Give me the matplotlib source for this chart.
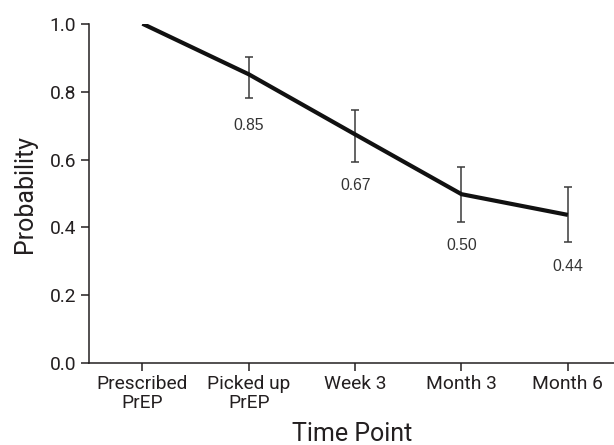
import numpy as np
import matplotlib.pyplot as plt

##========================================
# Data
##========================================
time_points = ['Prescribed\nPrEP', 'Picked up\nPrEP', 'Week 3', 'Month 3', 'Month 6']
prob = [1.0, 0.851, 0.674, 0.498, 0.437]
ci_low = [1.0, 0.780, 0.593, 0.416, 0.358]
ci_high = [1.0, 0.901, 0.746, 0.579, 0.520]
point_labels = ['', '0.85', '0.67', '0.50', '0.44']

x = np.arange(len(time_points))
prob = np.array(prob)
err = np.array([prob - np.array(ci_low), np.array(ci_high) - prob])

plt.rcParams['font.family'] = ['Roboto', 'DejaVu Sans']
ink = '#231f20'

fig = plt.figure(figsize=(6.14, 4.45), dpi=100)
ax = fig.add_axes([0.1454, 0.1836, 0.8546, 0.7631])

ax.plot(x, prob, color='#111111', lw=3.0, solid_capstyle='butt', zorder=3)
ax.errorbar(x[1:], prob[1:], yerr=err[:, 1:], fmt='none', ecolor='#3a3a3a',
            elinewidth=1.1, capsize=2.9, capthick=1.1, zorder=2)

# value labels sit below each point
for xi, yi, lab in zip(x, prob, point_labels):
    if lab:
        ax.annotate(lab, (xi, yi), xytext=(0, -37), textcoords='offset points',
                    ha='center', va='center', fontsize=11.3,
                    family=['Liberation Sans', 'DejaVu Sans'], color='#333333')

ax.set_xlim(-0.5, 4.434)
ax.set_ylim(0, 1.0)
ax.set_xticks(x)
ax.set_xticklabels(time_points, linespacing=1.05)
ax.set_yticks([0, 0.2, 0.4, 0.6, 0.8, 1.0])
ax.set_yticklabels(['0.0', '0.2', '0.4', '0.6', '0.8', '1.0'])
ax.tick_params(axis='both', labelsize=13.8, length=5.5, width=1.1, color=ink,
               labelcolor=ink)
ax.tick_params(axis='x', pad=3)
ax.tick_params(axis='y', pad=4)

for s in ['top', 'right']:
    ax.spines[s].set_visible(False)
for s in ['left', 'bottom']:
    ax.spines[s].set_linewidth(1.1)
    ax.spines[s].set_color(ink)

ax.set_xlabel('Time Point', fontsize=18, color=ink, labelpad=7)
ax.set_ylabel('Probability', fontsize=18, color=ink, labelpad=9)

plt.savefig('out.png', dpi=100)
